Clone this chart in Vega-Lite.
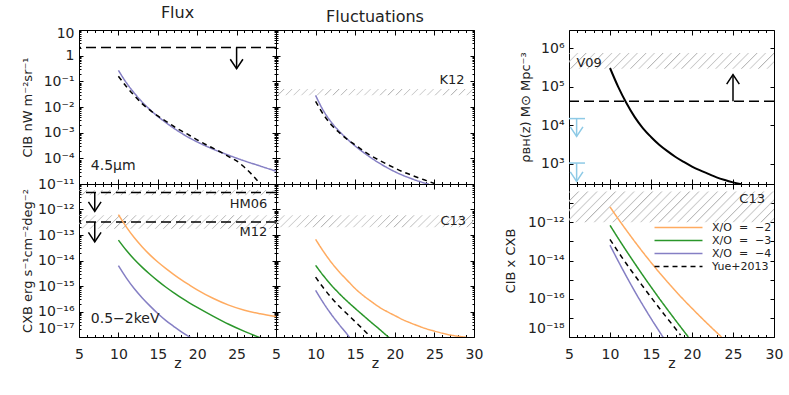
{
"$schema":"https://vega.github.io/schema/vega-lite/v6.json",
"background":"white",
"padding":{"left":20,"top":4,"right":6,"bottom":6},
"config":{
 "view":{"stroke":"#000","strokeWidth":1},
 "axis":{"grid":false,"domain":false,"tickColor":"#000","tickWidth":1,"labelFont":"DejaVu Sans","titleFont":"DejaVu Sans","labelColor":"#222","titleColor":"#222","labelFontSize":14,"titleFontSize":13,"titleFontWeight":"normal","zindex":1},
 "title":{"font":"DejaVu Sans","fontSize":16,"fontWeight":"normal","color":"#222","offset":5},
 "legend":{"labelFont":"DejaVu Sans"}
},
"datasets":{
 "curves":[
  {"p":"TL","s":"model","z":10,"v":0.269},{"p":"TL","s":"model","z":11,"v":0.0891},{"p":"TL","s":"model","z":12,"v":0.0355},{"p":"TL","s":"model","z":13,"v":0.0158},{"p":"TL","s":"model","z":14,"v":0.00794},{"p":"TL","s":"model","z":15,"v":0.00427},{"p":"TL","s":"model","z":16,"v":0.00251},{"p":"TL","s":"model","z":17,"v":0.00151},{"p":"TL","s":"model","z":18,"v":0.000955},{"p":"TL","s":"model","z":19,"v":0.000631},{"p":"TL","s":"model","z":20,"v":0.000437},{"p":"TL","s":"model","z":22,"v":0.000229},{"p":"TL","s":"model","z":24,"v":0.000132},{"p":"TL","s":"model","z":26,"v":7.94e-5},{"p":"TL","s":"model","z":28,"v":5.01e-5},{"p":"TL","s":"model","z":30,"v":3.16e-5},
  {"p":"TL","s":"Yue+2013","z":10,"v":0.158},{"p":"TL","s":"Yue+2013","z":11,"v":0.0631},{"p":"TL","s":"Yue+2013","z":12,"v":0.0282},{"p":"TL","s":"Yue+2013","z":13,"v":0.0135},{"p":"TL","s":"Yue+2013","z":14,"v":0.00759},{"p":"TL","s":"Yue+2013","z":15,"v":0.00447},{"p":"TL","s":"Yue+2013","z":16,"v":0.00282},{"p":"TL","s":"Yue+2013","z":17,"v":0.00178},{"p":"TL","s":"Yue+2013","z":18,"v":0.00117},{"p":"TL","s":"Yue+2013","z":19,"v":0.000794},{"p":"TL","s":"Yue+2013","z":20,"v":0.000525},{"p":"TL","s":"Yue+2013","z":21,"v":0.000355},{"p":"TL","s":"Yue+2013","z":22,"v":0.000251},{"p":"TL","s":"Yue+2013","z":23,"v":0.000174},{"p":"TL","s":"Yue+2013","z":24,"v":0.000117},{"p":"TL","s":"Yue+2013","z":25,"v":7.94e-5},{"p":"TL","s":"Yue+2013","z":26,"v":4.47e-5},{"p":"TL","s":"Yue+2013","z":27,"v":2.24e-5},{"p":"TL","s":"Yue+2013","z":28,"v":1e-5},
  {"p":"TM","s":"model","z":10,"v":0.0282},{"p":"TM","s":"model","z":11,"v":0.00708},{"p":"TM","s":"model","z":12,"v":0.00251},{"p":"TM","s":"model","z":13,"v":0.00112},{"p":"TM","s":"model","z":14,"v":0.000562},{"p":"TM","s":"model","z":15,"v":0.000302},{"p":"TM","s":"model","z":16,"v":0.000174},{"p":"TM","s":"model","z":17,"v":0.000105},{"p":"TM","s":"model","z":18,"v":6.61e-5},{"p":"TM","s":"model","z":19,"v":4.37e-5},{"p":"TM","s":"model","z":20,"v":3.02e-5},{"p":"TM","s":"model","z":21,"v":2.19e-5},{"p":"TM","s":"model","z":22,"v":1.66e-5},{"p":"TM","s":"model","z":23,"v":1.29e-5},{"p":"TM","s":"model","z":24,"v":1.05e-5},{"p":"TM","s":"model","z":24.3,"v":1e-5},
  {"p":"TM","s":"Yue+2013","z":10,"v":0.0166},{"p":"TM","s":"Yue+2013","z":11,"v":0.00501},{"p":"TM","s":"Yue+2013","z":12,"v":0.002},{"p":"TM","s":"Yue+2013","z":13,"v":0.001},{"p":"TM","s":"Yue+2013","z":14,"v":0.00055},{"p":"TM","s":"Yue+2013","z":15,"v":0.000331},{"p":"TM","s":"Yue+2013","z":16,"v":0.0002},{"p":"TM","s":"Yue+2013","z":17,"v":0.000126},{"p":"TM","s":"Yue+2013","z":18,"v":8.51e-5},{"p":"TM","s":"Yue+2013","z":19,"v":5.89e-5},{"p":"TM","s":"Yue+2013","z":20,"v":4.17e-5},{"p":"TM","s":"Yue+2013","z":21,"v":3.02e-5},{"p":"TM","s":"Yue+2013","z":22,"v":2.29e-5},{"p":"TM","s":"Yue+2013","z":23,"v":1.74e-5},{"p":"TM","s":"Yue+2013","z":24,"v":1.35e-5},{"p":"TM","s":"Yue+2013","z":25,"v":1.05e-5},
  {"p":"BL","s":"X/O = −2","z":10,"v":6.31e-13},{"p":"BL","s":"X/O = −2","z":11,"v":2.09e-13},{"p":"BL","s":"X/O = −2","z":12,"v":7.94e-14},{"p":"BL","s":"X/O = −2","z":13,"v":3.47e-14},{"p":"BL","s":"X/O = −2","z":14,"v":1.66e-14},{"p":"BL","s":"X/O = −2","z":15,"v":8.71e-15},{"p":"BL","s":"X/O = −2","z":16,"v":4.9e-15},{"p":"BL","s":"X/O = −2","z":17,"v":2.88e-15},{"p":"BL","s":"X/O = −2","z":18,"v":1.74e-15},{"p":"BL","s":"X/O = −2","z":19,"v":1.1e-15},{"p":"BL","s":"X/O = −2","z":20,"v":7.08e-16},{"p":"BL","s":"X/O = −2","z":22,"v":3.31e-16},{"p":"BL","s":"X/O = −2","z":24,"v":1.78e-16},{"p":"BL","s":"X/O = −2","z":26,"v":1.12e-16},{"p":"BL","s":"X/O = −2","z":28,"v":8.13e-17},{"p":"BL","s":"X/O = −2","z":30,"v":6.31e-17},
  {"p":"BL","s":"X/O = −3","z":10,"v":6.31e-14},{"p":"BL","s":"X/O = −3","z":11,"v":2.51e-14},{"p":"BL","s":"X/O = −3","z":12,"v":1.12e-14},{"p":"BL","s":"X/O = −3","z":13,"v":5.5e-15},{"p":"BL","s":"X/O = −3","z":14,"v":2.88e-15},{"p":"BL","s":"X/O = −3","z":15,"v":1.58e-15},{"p":"BL","s":"X/O = −3","z":16,"v":9.12e-16},{"p":"BL","s":"X/O = −3","z":17,"v":5.5e-16},{"p":"BL","s":"X/O = −3","z":18,"v":3.39e-16},{"p":"BL","s":"X/O = −3","z":19,"v":2.19e-16},{"p":"BL","s":"X/O = −3","z":20,"v":1.45e-16},{"p":"BL","s":"X/O = −3","z":22,"v":6.61e-17},{"p":"BL","s":"X/O = −3","z":24,"v":3.16e-17},{"p":"BL","s":"X/O = −3","z":26,"v":1.66e-17},{"p":"BL","s":"X/O = −3","z":28,"v":9.33e-18},
  {"p":"BL","s":"X/O = −4","z":10,"v":6.31e-15},{"p":"BL","s":"X/O = −4","z":11,"v":2.09e-15},{"p":"BL","s":"X/O = −4","z":12,"v":7.94e-16},{"p":"BL","s":"X/O = −4","z":13,"v":3.47e-16},{"p":"BL","s":"X/O = −4","z":14,"v":1.66e-16},{"p":"BL","s":"X/O = −4","z":15,"v":8.32e-17},{"p":"BL","s":"X/O = −4","z":16,"v":4.47e-17},{"p":"BL","s":"X/O = −4","z":17,"v":2.63e-17},{"p":"BL","s":"X/O = −4","z":18,"v":1.58e-17},{"p":"BL","s":"X/O = −4","z":19,"v":1.02e-17},{"p":"BL","s":"X/O = −4","z":19.4,"v":8.7e-18},
  {"p":"BM","s":"X/O = −2","z":10,"v":6.76e-14},{"p":"BM","s":"X/O = −2","z":11,"v":2.24e-14},{"p":"BM","s":"X/O = −2","z":12,"v":8.32e-15},{"p":"BM","s":"X/O = −2","z":13,"v":3.55e-15},{"p":"BM","s":"X/O = −2","z":14,"v":1.66e-15},{"p":"BM","s":"X/O = −2","z":15,"v":7.94e-16},{"p":"BM","s":"X/O = −2","z":16,"v":4.27e-16},{"p":"BM","s":"X/O = −2","z":17,"v":2.51e-16},{"p":"BM","s":"X/O = −2","z":18,"v":1.51e-16},{"p":"BM","s":"X/O = −2","z":19,"v":1e-16},{"p":"BM","s":"X/O = −2","z":20,"v":6.92e-17},{"p":"BM","s":"X/O = −2","z":21,"v":4.79e-17},{"p":"BM","s":"X/O = −2","z":22,"v":3.55e-17},{"p":"BM","s":"X/O = −2","z":23,"v":2.69e-17},{"p":"BM","s":"X/O = −2","z":24,"v":2.09e-17},{"p":"BM","s":"X/O = −2","z":25,"v":1.7e-17},{"p":"BM","s":"X/O = −2","z":26,"v":1.41e-17},{"p":"BM","s":"X/O = −2","z":27,"v":1.2e-17},{"p":"BM","s":"X/O = −2","z":28,"v":1.07e-17},{"p":"BM","s":"X/O = −2","z":29,"v":9.8e-18},
  {"p":"BM","s":"X/O = −3","z":10,"v":6.46e-15},{"p":"BM","s":"X/O = −3","z":11,"v":2.51e-15},{"p":"BM","s":"X/O = −3","z":12,"v":1.07e-15},{"p":"BM","s":"X/O = −3","z":13,"v":5.01e-16},{"p":"BM","s":"X/O = −3","z":14,"v":2.51e-16},{"p":"BM","s":"X/O = −3","z":15,"v":1.32e-16},{"p":"BM","s":"X/O = −3","z":16,"v":7.08e-17},{"p":"BM","s":"X/O = −3","z":17,"v":3.8e-17},{"p":"BM","s":"X/O = −3","z":18,"v":2.09e-17},{"p":"BM","s":"X/O = −3","z":19,"v":1.12e-17},{"p":"BM","s":"X/O = −3","z":19.3,"v":9.3e-18},
  {"p":"BM","s":"Yue+2013","z":10,"v":2.24e-15},{"p":"BM","s":"Yue+2013","z":11,"v":8.32e-16},{"p":"BM","s":"Yue+2013","z":12,"v":3.47e-16},{"p":"BM","s":"Yue+2013","z":13,"v":1.58e-16},{"p":"BM","s":"Yue+2013","z":14,"v":7.94e-17},{"p":"BM","s":"Yue+2013","z":15,"v":3.98e-17},{"p":"BM","s":"Yue+2013","z":16,"v":2.0e-17},{"p":"BM","s":"Yue+2013","z":16.9,"v":1.05e-17},
  {"p":"BM","s":"X/O = −4","z":10,"v":6.76e-16},{"p":"BM","s":"X/O = −4","z":11,"v":2.14e-16},{"p":"BM","s":"X/O = −4","z":12,"v":7.59e-17},{"p":"BM","s":"X/O = −4","z":13,"v":3.02e-17},{"p":"BM","s":"X/O = −4","z":14,"v":1.26e-17},{"p":"BM","s":"X/O = −4","z":14.3,"v":9.5e-18},
  {"p":"RT","s":"model","z":10,"v":309000},{"p":"RT","s":"model","z":11,"v":100000},{"p":"RT","s":"model","z":12,"v":38000},{"p":"RT","s":"model","z":13,"v":16600},{"p":"RT","s":"model","z":14,"v":8510},{"p":"RT","s":"model","z":15,"v":5010},{"p":"RT","s":"model","z":16,"v":3160},{"p":"RT","s":"model","z":17,"v":2140},{"p":"RT","s":"model","z":18,"v":1510},{"p":"RT","s":"model","z":19,"v":1120},{"p":"RT","s":"model","z":20,"v":851},{"p":"RT","s":"model","z":21,"v":676},{"p":"RT","s":"model","z":22,"v":550},{"p":"RT","s":"model","z":23,"v":447},{"p":"RT","s":"model","z":24,"v":380},{"p":"RT","s":"model","z":25,"v":331},{"p":"RT","s":"model","z":26,"v":295},
  {"p":"RB","s":"X/O = −2","z":10,"v":6.31e-12},{"p":"RB","s":"X/O = −2","z":11,"v":1.51e-12},{"p":"RB","s":"X/O = −2","z":12,"v":3.8e-13},{"p":"RB","s":"X/O = −2","z":13,"v":1e-13},{"p":"RB","s":"X/O = −2","z":14,"v":2.75e-14},{"p":"RB","s":"X/O = −2","z":15,"v":7.94e-15},{"p":"RB","s":"X/O = −2","z":16,"v":2.4e-15},{"p":"RB","s":"X/O = −2","z":17,"v":7.59e-16},{"p":"RB","s":"X/O = −2","z":18,"v":2.51e-16},{"p":"RB","s":"X/O = −2","z":19,"v":8.71e-17},{"p":"RB","s":"X/O = −2","z":20,"v":3.16e-17},{"p":"RB","s":"X/O = −2","z":21,"v":1.17e-17},{"p":"RB","s":"X/O = −2","z":22,"v":4.47e-18},{"p":"RB","s":"X/O = −2","z":23,"v":1.74e-18},{"p":"RB","s":"X/O = −2","z":23.6,"v":1e-18},
  {"p":"RB","s":"X/O = −3","z":10,"v":6.92e-13},{"p":"RB","s":"X/O = −3","z":11,"v":1.45e-13},{"p":"RB","s":"X/O = −3","z":12,"v":3.16e-14},{"p":"RB","s":"X/O = −3","z":13,"v":7.24e-15},{"p":"RB","s":"X/O = −3","z":14,"v":1.7e-15},{"p":"RB","s":"X/O = −3","z":15,"v":4.17e-16},{"p":"RB","s":"X/O = −3","z":16,"v":1.05e-16},{"p":"RB","s":"X/O = −3","z":17,"v":2.75e-17},{"p":"RB","s":"X/O = −3","z":18,"v":7.41e-18},{"p":"RB","s":"X/O = −3","z":19,"v":2.04e-18},{"p":"RB","s":"X/O = −3","z":19.55,"v":1e-18},
  {"p":"RB","s":"Yue+2013","z":10,"v":1.26e-13},{"p":"RB","s":"Yue+2013","z":11,"v":2.82e-14},{"p":"RB","s":"Yue+2013","z":12,"v":6.76e-15},{"p":"RB","s":"Yue+2013","z":13,"v":1.7e-15},{"p":"RB","s":"Yue+2013","z":14,"v":4.47e-16},{"p":"RB","s":"Yue+2013","z":15,"v":1.2e-16},{"p":"RB","s":"Yue+2013","z":16,"v":3.31e-17},{"p":"RB","s":"Yue+2013","z":17,"v":9.33e-18},{"p":"RB","s":"Yue+2013","z":18,"v":2.69e-18},{"p":"RB","s":"Yue+2013","z":18.6,"v":1.26e-18},
  {"p":"RB","s":"X/O = −4","z":10,"v":6.31e-14},{"p":"RB","s":"X/O = −4","z":11,"v":9.33e-15},{"p":"RB","s":"X/O = −4","z":12,"v":1.48e-15},{"p":"RB","s":"X/O = −4","z":13,"v":2.51e-16},{"p":"RB","s":"X/O = −4","z":14,"v":4.68e-17},{"p":"RB","s":"X/O = −4","z":15,"v":9.33e-18},{"p":"RB","s":"X/O = −4","z":16,"v":2.0e-18},{"p":"RB","s":"X/O = −4","z":16.5,"v":9.3e-19}
 ],
 "hlines":[{"p":"TL","v":2.1},{"p":"BL","v":4.6e-12},{"p":"BL","v":3.2e-13},{"p":"RT","v":42000}],
 "limits":[{"p":"TL","z":25,"v":2.1,"tip":0.31},{"p":"BL","z":7,"v":4.6e-12,"tip":8.5e-13},{"p":"BL","z":7,"v":3.2e-13,"tip":5.4e-14},{"p":"RT","z":25,"v":42000,"tip":207000}],
 "bhlimits":[{"z":5.93,"z0":5,"z1":6.95,"v":15000,"tip":5200},{"z":5.93,"z0":5,"z1":6.95,"v":1050,"tip":350}],
 "bands":[{"p":"TM","name":"K12","lo":0.0285,"hi":0.05},{"p":"BL","name":"HM06","lo":3.6e-12,"hi":5.8e-12},{"p":"BL","name":"M12","lo":1.74e-13,"hi":6.0e-13},{"p":"BM","name":"C13","lo":2.0e-13,"hi":5.9e-13},{"p":"RT","name":"V09","lo":295000,"hi":760000},{"p":"RB","name":"C13","lo":1e-12,"hi":4e-11}],
 "notes":[{"p":"TL","z":6.5,"v":5.2e-5,"t":"4.5μm"},{"p":"BL","z":6.5,"v":4.9e-17,"t":"0.5−2keV"},{"p":"RT","z":5.9,"v":417000,"t":"V09"}],
 "tags":[{"p":"TM","z":28.8,"v":0.11,"t":"K12"},{"p":"BL","z":28.9,"v":1.7e-12,"t":"HM06"},{"p":"BL","z":28.9,"v":1.32e-13,"t":"M12"},{"p":"BM","z":29,"v":3.47e-13,"t":"C13"},{"p":"RB","z":28.9,"v":1.7e-11,"t":"C13"}]
},
"columns":4,"spacing":0,"bounds":"flush","align":"each",
"resolve":{"scale":{"color":"independent","strokeDash":"independent"}},
"concat":[
{"width":197,"height":154,"title":{"text":"Flux"},
 "resolve":{"axis":{"x":"independent","y":"independent"}},
 "layer":[
  {"data":{"name":"curves"},"transform":[{"filter":"datum.p == 'TL'"}],"mark":{"type":"point","opacity":0},"encoding":{
   "x":{"field":"z","type":"quantitative","scale":{"domain":[5,30],"nice":false},"axis":{"orient":"bottom","values":[5,10,15,20,25,30],"tickSize":-5,"labels":false,"title":null}},
   "y":{"field":"v","type":"quantitative","scale":{"type":"log","domain":[1e-5,10],"nice":false},"axis":{"orient":"left","values":[0.0001,0.001,0.01,0.1,1,10],"ticks":false,"tickSize":0,"labelPadding":5,"labelFlush":false,"labelOverlap":false,"labelOffset":{"condition":{"test":"datum.value > 5","value":3},"value":0},"labelExpr":"datum.value >= 1 && datum.value < 100 ? format(datum.value, 'd') : '10' + replace(replace(replace(replace(replace(replace(replace(replace(replace(replace(replace(toString(round(log(datum.value) / LN10)), regexp('-', 'g'), '⁻'), regexp('0', 'g'), '⁰'), regexp('1', 'g'), '¹'), regexp('2', 'g'), '²'), regexp('3', 'g'), '³'), regexp('4', 'g'), '⁴'), regexp('5', 'g'), '⁵'), regexp('6', 'g'), '⁶'), regexp('7', 'g'), '⁷'), regexp('8', 'g'), '⁸'), regexp('9', 'g'), '⁹')","title":"CIB nW m⁻²sr⁻¹","titleX":-45}}}},
  {"data":{"name":"curves"},"transform":[{"filter":"datum.p == 'TL'"}],"mark":{"type":"point","opacity":0},"encoding":{
   "x":{"field":"z","type":"quantitative","axis":{"orient":"bottom","values":[6,7,8,9,11,12,13,14,16,17,18,19,21,22,23,24,26,27,28,29],"tickSize":-2.5,"labels":false,"title":null}},
   "y":{"field":"v","type":"quantitative","axis":{"orient":"left","values":[1e-5,0.0001,0.001,0.01,0.1,1,10],"tickSize":-4,"labels":false,"title":null}}}},
  {"data":{"name":"curves"},"transform":[{"filter":"datum.p == 'TL'"}],"mark":{"type":"point","opacity":0},"encoding":{
   "x":{"field":"z","type":"quantitative","axis":{"orient":"top","values":[5,10,15,20,25,30],"tickSize":-5,"labels":false,"title":null}},
   "y":{"field":"v","type":"quantitative","axis":{"orient":"left","values":[2e-5,3e-5,4e-5,5e-5,6e-5,7e-5,8e-5,9e-5,2e-4,3e-4,4e-4,5e-4,6e-4,7e-4,8e-4,9e-4,0.002,0.003,0.004,0.005,0.006,0.007,0.008,0.009,0.02,0.03,0.04,0.05,0.06,0.07,0.08,0.09,0.2,0.3,0.4,0.5,0.6,0.7,0.8,0.9,2,3,4,5,6,7,8,9],"tickSize":-2,"labels":false,"title":null}}}},
  {"data":{"name":"curves"},"transform":[{"filter":"datum.p == 'TL'"}],"mark":{"type":"point","opacity":0},"encoding":{
   "x":{"field":"z","type":"quantitative","axis":{"orient":"top","values":[6,7,8,9,11,12,13,14,16,17,18,19,21,22,23,24,26,27,28,29],"tickSize":-2.5,"labels":false,"title":null}},
   "y":{"field":"v","type":"quantitative","axis":{"orient":"right","values":[1e-5,0.0001,0.001,0.01,0.1,1,10],"tickSize":-4,"labels":false,"title":null}}}},
  {"data":{"name":"curves"},"transform":[{"filter":"datum.p == 'TL'"}],"mark":{"type":"point","opacity":0},"encoding":{
   "x":{"field":"z","type":"quantitative","axis":null},
   "y":{"field":"v","type":"quantitative","axis":{"orient":"right","values":[2e-5,3e-5,4e-5,5e-5,6e-5,7e-5,8e-5,9e-5,2e-4,3e-4,4e-4,5e-4,6e-4,7e-4,8e-4,9e-4,0.002,0.003,0.004,0.005,0.006,0.007,0.008,0.009,0.02,0.03,0.04,0.05,0.06,0.07,0.08,0.09,0.2,0.3,0.4,0.5,0.6,0.7,0.8,0.9,2,3,4,5,6,7,8,9],"tickSize":-2,"labels":false,"title":null}}}},
  {"data":{"name":"hlines"},"transform":[{"filter":"datum.p == 'TL'"}],"mark":{"type":"rule","strokeDash":[10,5],"strokeWidth":1.5,"color":"#000"},"encoding":{"y":{"field":"v","type":"quantitative","axis":null}}},
  {"data":{"name":"limits"},"transform":[{"filter":"datum.p == 'TL'"}],"mark":{"type":"rule","strokeWidth":1.5,"color":"#000"},"encoding":{"x":{"field":"z","type":"quantitative","axis":null},"y":{"field":"v","type":"quantitative","axis":null},"y2":{"field":"tip"}}},
  {"data":{"name":"limits"},"transform":[{"filter":"datum.p == 'TL'"}],"mark":{"type":"point","shape":"M-1,-1.5L0,0L1,-1.5","filled":false,"size":160,"strokeWidth":1.5,"color":"#000","opacity":1},"encoding":{"x":{"field":"z","type":"quantitative","axis":null},"y":{"field":"tip","type":"quantitative","axis":null}}},
  {"data":{"name":"curves"},"transform":[{"filter":"datum.p == 'TL'"}],"mark":{"type":"line","strokeWidth":1.5,"clip":true,"interpolate":"monotone"},"encoding":{
   "x":{"field":"z","type":"quantitative","axis":null},"y":{"field":"v","type":"quantitative","axis":null},
   "color":{"field":"s","type":"nominal","scale":{"domain":["model","Yue+2013"],"range":["#857fc4","#000000"]},"legend":null},
   "strokeDash":{"field":"s","type":"nominal","scale":{"domain":["model","Yue+2013"],"range":[[1,0],[5,4]]},"legend":null}}},
  {"data":{"name":"notes"},"transform":[{"filter":"datum.p == 'TL'"}],"mark":{"type":"text","align":"left","baseline":"middle","fontSize":14,"font":"DejaVu Sans","color":"#222"},"encoding":{"x":{"field":"z","type":"quantitative","axis":null},"y":{"field":"v","type":"quantitative","axis":null},"text":{"field":"t"}}}
 ]},
{"width":198,"height":154,"title":{"text":"Fluctuations"},
 "resolve":{"axis":{"x":"independent","y":"independent"}},
 "layer":[
  {"data":{"name":"curves"},"transform":[{"filter":"datum.p == 'TM'"}],"mark":{"type":"point","opacity":0},"encoding":{
   "x":{"field":"z","type":"quantitative","scale":{"domain":[5,30],"nice":false},"axis":{"orient":"bottom","values":[5,10,15,20,25,30],"tickSize":-5,"labels":false,"title":null}},
   "y":{"field":"v","type":"quantitative","scale":{"type":"log","domain":[1e-5,10],"nice":false},"axis":{"orient":"left","values":[1e-5,0.0001,0.001,0.01,0.1,1,10],"tickSize":-4,"labels":false,"title":null}}}},
  {"data":{"name":"curves"},"transform":[{"filter":"datum.p == 'TM'"}],"mark":{"type":"point","opacity":0},"encoding":{
   "x":{"field":"z","type":"quantitative","axis":{"orient":"bottom","values":[6,7,8,9,11,12,13,14,16,17,18,19,21,22,23,24,26,27,28,29],"tickSize":-2.5,"labels":false,"title":null}},
   "y":{"field":"v","type":"quantitative","axis":{"orient":"left","values":[2e-5,3e-5,4e-5,5e-5,6e-5,7e-5,8e-5,9e-5,2e-4,3e-4,4e-4,5e-4,6e-4,7e-4,8e-4,9e-4,0.002,0.003,0.004,0.005,0.006,0.007,0.008,0.009,0.02,0.03,0.04,0.05,0.06,0.07,0.08,0.09,0.2,0.3,0.4,0.5,0.6,0.7,0.8,0.9,2,3,4,5,6,7,8,9],"tickSize":-2,"labels":false,"title":null}}}},
  {"data":{"name":"curves"},"transform":[{"filter":"datum.p == 'TM'"}],"mark":{"type":"point","opacity":0},"encoding":{
   "x":{"field":"z","type":"quantitative","axis":{"orient":"top","values":[5,10,15,20,25,30],"tickSize":-5,"labels":false,"title":null}},
   "y":{"field":"v","type":"quantitative","axis":{"orient":"right","values":[1e-5,0.0001,0.001,0.01,0.1,1,10],"tickSize":-4,"labels":false,"title":null}}}},
  {"data":{"name":"curves"},"transform":[{"filter":"datum.p == 'TM'"}],"mark":{"type":"point","opacity":0},"encoding":{
   "x":{"field":"z","type":"quantitative","axis":{"orient":"top","values":[6,7,8,9,11,12,13,14,16,17,18,19,21,22,23,24,26,27,28,29],"tickSize":-2.5,"labels":false,"title":null}},
   "y":{"field":"v","type":"quantitative","axis":{"orient":"right","values":[2e-5,3e-5,4e-5,5e-5,6e-5,7e-5,8e-5,9e-5,2e-4,3e-4,4e-4,5e-4,6e-4,7e-4,8e-4,9e-4,0.002,0.003,0.004,0.005,0.006,0.007,0.008,0.009,0.02,0.03,0.04,0.05,0.06,0.07,0.08,0.09,0.2,0.3,0.4,0.5,0.6,0.7,0.8,0.9,2,3,4,5,6,7,8,9],"tickSize":-2,"labels":false,"title":null}}}},
  {"data":{"name":"bands"},"transform":[{"filter":"datum.p == 'TM'"}],"mark":{"type":"rect","clip":true,"fill":{"gradient":"linear","x1":0,"y1":0,"x2":1.032,"y2":0.033,"stops":[{"offset":0,"color":"#b5b5b5"},{"offset":0.009,"color":"#fff0"},{"offset":0.034,"color":"#fff0"},{"offset":0.0385,"color":"#b5b5b5"},{"offset":0.0475,"color":"#fff0"},{"offset":0.0725,"color":"#fff0"},{"offset":0.0769,"color":"#b5b5b5"},{"offset":0.0859,"color":"#fff0"},{"offset":0.1109,"color":"#fff0"},{"offset":0.1154,"color":"#b5b5b5"},{"offset":0.1244,"color":"#fff0"},{"offset":0.1494,"color":"#fff0"},{"offset":0.1538,"color":"#b5b5b5"},{"offset":0.1628,"color":"#fff0"},{"offset":0.1878,"color":"#fff0"},{"offset":0.1923,"color":"#b5b5b5"},{"offset":0.2013,"color":"#fff0"},{"offset":0.2263,"color":"#fff0"},{"offset":0.2308,"color":"#b5b5b5"},{"offset":0.2398,"color":"#fff0"},{"offset":0.2648,"color":"#fff0"},{"offset":0.2692,"color":"#b5b5b5"},{"offset":0.2782,"color":"#fff0"},{"offset":0.3032,"color":"#fff0"},{"offset":0.3077,"color":"#b5b5b5"},{"offset":0.3167,"color":"#fff0"},{"offset":0.3417,"color":"#fff0"},{"offset":0.3462,"color":"#b5b5b5"},{"offset":0.3552,"color":"#fff0"},{"offset":0.3802,"color":"#fff0"},{"offset":0.3846,"color":"#b5b5b5"},{"offset":0.3936,"color":"#fff0"},{"offset":0.4186,"color":"#fff0"},{"offset":0.4231,"color":"#b5b5b5"},{"offset":0.4321,"color":"#fff0"},{"offset":0.4571,"color":"#fff0"},{"offset":0.4615,"color":"#b5b5b5"},{"offset":0.4705,"color":"#fff0"},{"offset":0.4955,"color":"#fff0"},{"offset":0.5,"color":"#b5b5b5"},{"offset":0.509,"color":"#fff0"},{"offset":0.534,"color":"#fff0"},{"offset":0.5385,"color":"#b5b5b5"},{"offset":0.5475,"color":"#fff0"},{"offset":0.5725,"color":"#fff0"},{"offset":0.5769,"color":"#b5b5b5"},{"offset":0.5859,"color":"#fff0"},{"offset":0.6109,"color":"#fff0"},{"offset":0.6154,"color":"#b5b5b5"},{"offset":0.6244,"color":"#fff0"},{"offset":0.6494,"color":"#fff0"},{"offset":0.6538,"color":"#b5b5b5"},{"offset":0.6628,"color":"#fff0"},{"offset":0.6878,"color":"#fff0"},{"offset":0.6923,"color":"#b5b5b5"},{"offset":0.7013,"color":"#fff0"},{"offset":0.7263,"color":"#fff0"},{"offset":0.7308,"color":"#b5b5b5"},{"offset":0.7398,"color":"#fff0"},{"offset":0.7648,"color":"#fff0"},{"offset":0.7692,"color":"#b5b5b5"},{"offset":0.7782,"color":"#fff0"},{"offset":0.8032,"color":"#fff0"},{"offset":0.8077,"color":"#b5b5b5"},{"offset":0.8167,"color":"#fff0"},{"offset":0.8417,"color":"#fff0"},{"offset":0.8462,"color":"#b5b5b5"},{"offset":0.8552,"color":"#fff0"},{"offset":0.8802,"color":"#fff0"},{"offset":0.8846,"color":"#b5b5b5"},{"offset":0.8936,"color":"#fff0"},{"offset":0.9186,"color":"#fff0"},{"offset":0.9231,"color":"#b5b5b5"},{"offset":0.9321,"color":"#fff0"},{"offset":0.9571,"color":"#fff0"},{"offset":0.9615,"color":"#b5b5b5"},{"offset":0.9705,"color":"#fff0"},{"offset":1,"color":"#fff0"}]}},"encoding":{"y":{"field":"lo","type":"quantitative","axis":null},"y2":{"field":"hi"}}},
  {"data":{"name":"curves"},"transform":[{"filter":"datum.p == 'TM'"}],"mark":{"type":"line","strokeWidth":1.5,"clip":true,"interpolate":"monotone"},"encoding":{
   "x":{"field":"z","type":"quantitative","axis":null},"y":{"field":"v","type":"quantitative","axis":null},
   "color":{"field":"s","type":"nominal","scale":{"domain":["model","Yue+2013"],"range":["#857fc4","#000000"]},"legend":null},
   "strokeDash":{"field":"s","type":"nominal","scale":{"domain":["model","Yue+2013"],"range":[[1,0],[5,4]]},"legend":null}}},
  {"data":{"name":"tags"},"transform":[{"filter":"datum.p == 'TM'"}],"mark":{"type":"text","align":"right","baseline":"middle","fontSize":13,"font":"DejaVu Sans","color":"#222"},"encoding":{"x":{"field":"z","type":"quantitative","axis":null},"y":{"field":"v","type":"quantitative","axis":null},"text":{"field":"t"}}}
 ]},
{"width":95,"height":154,"view":{"stroke":null},"data":{"name":"hlines"},"transform":[{"filter":"false"}],"mark":{"type":"point","opacity":0},"encoding":{}},
{"width":205,"height":154,
 "resolve":{"axis":{"x":"independent","y":"independent"}},
 "layer":[
  {"data":{"name":"curves"},"transform":[{"filter":"datum.p == 'RT'"}],"mark":{"type":"point","opacity":0},"encoding":{
   "x":{"field":"z","type":"quantitative","scale":{"domain":[5,30],"nice":false},"axis":{"orient":"bottom","values":[5,10,15,20,25,30],"tickSize":-5,"labels":false,"title":null}},
   "y":{"field":"v","type":"quantitative","scale":{"type":"log","domain":[300,3000000],"nice":false},"axis":{"orient":"left","values":[1000,10000,100000,1000000],"ticks":false,"tickSize":0,"labelPadding":5,"labelFlush":false,"labelOverlap":false,"labelExpr":"datum.value >= 1 && datum.value < 100 ? format(datum.value, 'd') : '10' + replace(replace(replace(replace(replace(replace(replace(replace(replace(replace(replace(toString(round(log(datum.value) / LN10)), regexp('-', 'g'), '⁻'), regexp('0', 'g'), '⁰'), regexp('1', 'g'), '¹'), regexp('2', 'g'), '²'), regexp('3', 'g'), '³'), regexp('4', 'g'), '⁴'), regexp('5', 'g'), '⁵'), regexp('6', 'g'), '⁶'), regexp('7', 'g'), '⁷'), regexp('8', 'g'), '⁸'), regexp('9', 'g'), '⁹')","title":"ρʙʜ(z) M⊙ Mpc⁻³","titleX":-37}}}},
  {"data":{"name":"curves"},"transform":[{"filter":"datum.p == 'RT'"}],"mark":{"type":"point","opacity":0},"encoding":{
   "x":{"field":"z","type":"quantitative","axis":{"orient":"bottom","values":[6,7,8,9,11,12,13,14,16,17,18,19,21,22,23,24,26,27,28,29],"tickSize":-2.5,"labels":false,"title":null}},
   "y":{"field":"v","type":"quantitative","axis":{"orient":"left","values":[1000,10000,100000,1000000],"tickSize":-4,"labels":false,"title":null}}}},
  {"data":{"name":"curves"},"transform":[{"filter":"datum.p == 'RT'"}],"mark":{"type":"point","opacity":0},"encoding":{
   "x":{"field":"z","type":"quantitative","axis":{"orient":"top","values":[5,10,15,20,25,30],"tickSize":-5,"labels":false,"title":null}},
   "y":{"field":"v","type":"quantitative","axis":{"orient":"right","values":[1000,10000,100000,1000000],"tickSize":-4,"labels":false,"title":null}}}},
  {"data":{"name":"curves"},"transform":[{"filter":"datum.p == 'RT'"}],"mark":{"type":"point","opacity":0},"encoding":{
   "x":{"field":"z","type":"quantitative","axis":{"orient":"top","values":[6,7,8,9,11,12,13,14,16,17,18,19,21,22,23,24,26,27,28,29],"tickSize":-2.5,"labels":false,"title":null}},
   "y":{"field":"v","type":"quantitative","axis":null}}},
  {"data":{"name":"bands"},"transform":[{"filter":"datum.p == 'RT'"}],"mark":{"type":"rect","clip":true,"fill":{"gradient":"linear","x1":0,"y1":0,"x2":1.077,"y2":0.083,"stops":[{"offset":0,"color":"#b5b5b5"},{"offset":0.009,"color":"#fff0"},{"offset":0.034,"color":"#fff0"},{"offset":0.0385,"color":"#b5b5b5"},{"offset":0.0475,"color":"#fff0"},{"offset":0.0725,"color":"#fff0"},{"offset":0.0769,"color":"#b5b5b5"},{"offset":0.0859,"color":"#fff0"},{"offset":0.1109,"color":"#fff0"},{"offset":0.1154,"color":"#b5b5b5"},{"offset":0.1244,"color":"#fff0"},{"offset":0.1494,"color":"#fff0"},{"offset":0.1538,"color":"#b5b5b5"},{"offset":0.1628,"color":"#fff0"},{"offset":0.1878,"color":"#fff0"},{"offset":0.1923,"color":"#b5b5b5"},{"offset":0.2013,"color":"#fff0"},{"offset":0.2263,"color":"#fff0"},{"offset":0.2308,"color":"#b5b5b5"},{"offset":0.2398,"color":"#fff0"},{"offset":0.2648,"color":"#fff0"},{"offset":0.2692,"color":"#b5b5b5"},{"offset":0.2782,"color":"#fff0"},{"offset":0.3032,"color":"#fff0"},{"offset":0.3077,"color":"#b5b5b5"},{"offset":0.3167,"color":"#fff0"},{"offset":0.3417,"color":"#fff0"},{"offset":0.3462,"color":"#b5b5b5"},{"offset":0.3552,"color":"#fff0"},{"offset":0.3802,"color":"#fff0"},{"offset":0.3846,"color":"#b5b5b5"},{"offset":0.3936,"color":"#fff0"},{"offset":0.4186,"color":"#fff0"},{"offset":0.4231,"color":"#b5b5b5"},{"offset":0.4321,"color":"#fff0"},{"offset":0.4571,"color":"#fff0"},{"offset":0.4615,"color":"#b5b5b5"},{"offset":0.4705,"color":"#fff0"},{"offset":0.4955,"color":"#fff0"},{"offset":0.5,"color":"#b5b5b5"},{"offset":0.509,"color":"#fff0"},{"offset":0.534,"color":"#fff0"},{"offset":0.5385,"color":"#b5b5b5"},{"offset":0.5475,"color":"#fff0"},{"offset":0.5725,"color":"#fff0"},{"offset":0.5769,"color":"#b5b5b5"},{"offset":0.5859,"color":"#fff0"},{"offset":0.6109,"color":"#fff0"},{"offset":0.6154,"color":"#b5b5b5"},{"offset":0.6244,"color":"#fff0"},{"offset":0.6494,"color":"#fff0"},{"offset":0.6538,"color":"#b5b5b5"},{"offset":0.6628,"color":"#fff0"},{"offset":0.6878,"color":"#fff0"},{"offset":0.6923,"color":"#b5b5b5"},{"offset":0.7013,"color":"#fff0"},{"offset":0.7263,"color":"#fff0"},{"offset":0.7308,"color":"#b5b5b5"},{"offset":0.7398,"color":"#fff0"},{"offset":0.7648,"color":"#fff0"},{"offset":0.7692,"color":"#b5b5b5"},{"offset":0.7782,"color":"#fff0"},{"offset":0.8032,"color":"#fff0"},{"offset":0.8077,"color":"#b5b5b5"},{"offset":0.8167,"color":"#fff0"},{"offset":0.8417,"color":"#fff0"},{"offset":0.8462,"color":"#b5b5b5"},{"offset":0.8552,"color":"#fff0"},{"offset":0.8802,"color":"#fff0"},{"offset":0.8846,"color":"#b5b5b5"},{"offset":0.8936,"color":"#fff0"},{"offset":0.9186,"color":"#fff0"},{"offset":0.9231,"color":"#b5b5b5"},{"offset":0.9321,"color":"#fff0"},{"offset":0.9571,"color":"#fff0"},{"offset":0.9615,"color":"#b5b5b5"},{"offset":0.9705,"color":"#fff0"},{"offset":1,"color":"#fff0"}]}},"encoding":{"y":{"field":"lo","type":"quantitative","axis":null},"y2":{"field":"hi"}}},
  {"data":{"name":"hlines"},"transform":[{"filter":"datum.p == 'RT'"}],"mark":{"type":"rule","strokeDash":[10,5],"strokeWidth":1.5,"color":"#000"},"encoding":{"y":{"field":"v","type":"quantitative","axis":null}}},
  {"data":{"name":"limits"},"transform":[{"filter":"datum.p == 'RT'"}],"mark":{"type":"rule","strokeWidth":1.5,"color":"#000"},"encoding":{"x":{"field":"z","type":"quantitative","axis":null},"y":{"field":"v","type":"quantitative","axis":null},"y2":{"field":"tip"}}},
  {"data":{"name":"limits"},"transform":[{"filter":"datum.p == 'RT'"}],"mark":{"type":"point","shape":"M-1,1.5L0,0L1,1.5","filled":false,"size":160,"strokeWidth":1.5,"color":"#000","opacity":1},"encoding":{"x":{"field":"z","type":"quantitative","axis":null},"y":{"field":"tip","type":"quantitative","axis":null}}},
  {"data":{"name":"bhlimits"},"mark":{"type":"rule","strokeWidth":1.5,"color":"#8ecae6"},"encoding":{"x":{"field":"z0","type":"quantitative","axis":null},"x2":{"field":"z1"},"y":{"field":"v","type":"quantitative","axis":null}}},
  {"data":{"name":"bhlimits"},"mark":{"type":"rule","strokeWidth":1.5,"color":"#8ecae6"},"encoding":{"x":{"field":"z","type":"quantitative","axis":null},"y":{"field":"v","type":"quantitative","axis":null},"y2":{"field":"tip"}}},
  {"data":{"name":"bhlimits"},"mark":{"type":"point","shape":"M-1,-1.5L0,0L1,-1.5","filled":false,"size":160,"strokeWidth":1.5,"color":"#8ecae6","opacity":1},"encoding":{"x":{"field":"z","type":"quantitative","axis":null},"y":{"field":"tip","type":"quantitative","axis":null}}},
  {"data":{"name":"curves"},"transform":[{"filter":"datum.p == 'RT'"}],"mark":{"type":"line","strokeWidth":2,"clip":true,"interpolate":"monotone","color":"#000"},"encoding":{"x":{"field":"z","type":"quantitative","axis":null},"y":{"field":"v","type":"quantitative","axis":null}}},
  {"data":{"name":"notes"},"transform":[{"filter":"datum.p == 'RT'"}],"mark":{"type":"text","align":"left","baseline":"middle","fontSize":13,"font":"DejaVu Sans","color":"#222"},"encoding":{"x":{"field":"z","type":"quantitative","axis":null},"y":{"field":"v","type":"quantitative","axis":null},"text":{"field":"t"}}}
 ]},
{"width":197,"height":153,
 "resolve":{"axis":{"x":"independent","y":"independent"}},
 "layer":[
  {"data":{"name":"curves"},"transform":[{"filter":"datum.p == 'BL'"}],"mark":{"type":"point","opacity":0},"encoding":{
   "x":{"field":"z","type":"quantitative","scale":{"domain":[5,30],"nice":false},"axis":{"orient":"bottom","values":[5,10,15,20,25],"ticks":false,"tickSize":0,"labelPadding":10,"labelFlush":false,"labelOverlap":false,"title":"z","titleFontSize":14,"titlePadding":-5}},
   "y":{"field":"v","type":"quantitative","scale":{"type":"log","domain":[1e-17,1e-11],"nice":false},"axis":{"orient":"left","values":[1e-17,1e-16,1e-15,1e-14,1e-13,1e-12,1e-11],"ticks":false,"tickSize":0,"labelPadding":5,"labelFlush":false,"labelOverlap":false,"labelOffset":{"condition":{"test":"datum.value < 2e-17","value":-9},"value":0},"labelExpr":"datum.value >= 1 && datum.value < 100 ? format(datum.value, 'd') : '10' + replace(replace(replace(replace(replace(replace(replace(replace(replace(replace(replace(toString(round(log(datum.value) / LN10)), regexp('-', 'g'), '⁻'), regexp('0', 'g'), '⁰'), regexp('1', 'g'), '¹'), regexp('2', 'g'), '²'), regexp('3', 'g'), '³'), regexp('4', 'g'), '⁴'), regexp('5', 'g'), '⁵'), regexp('6', 'g'), '⁶'), regexp('7', 'g'), '⁷'), regexp('8', 'g'), '⁸'), regexp('9', 'g'), '⁹')","title":"CXB erg s⁻¹cm⁻²deg⁻²","titleX":-45}}}},
  {"data":{"name":"curves"},"transform":[{"filter":"datum.p == 'BL'"}],"mark":{"type":"point","opacity":0},"encoding":{
   "x":{"field":"z","type":"quantitative","axis":{"orient":"bottom","values":[5,10,15,20,25,30],"tickSize":-5,"labels":false,"title":null}},
   "y":{"field":"v","type":"quantitative","axis":{"orient":"left","values":[1e-17,1e-16,1e-15,1e-14,1e-13,1e-12,1e-11],"tickSize":-4,"labels":false,"title":null}}}},
  {"data":{"name":"curves"},"transform":[{"filter":"datum.p == 'BL'"}],"mark":{"type":"point","opacity":0},"encoding":{
   "x":{"field":"z","type":"quantitative","axis":{"orient":"bottom","values":[6,7,8,9,11,12,13,14,16,17,18,19,21,22,23,24,26,27,28,29],"tickSize":-2.5,"labels":false,"title":null}},
   "y":{"field":"v","type":"quantitative","axis":{"orient":"left","values":[2e-17,3e-17,4e-17,5e-17,6e-17,7e-17,8e-17,9e-17,2e-16,3e-16,4e-16,5e-16,6e-16,7e-16,8e-16,9e-16,2e-15,3e-15,4e-15,5e-15,6e-15,7e-15,8e-15,9e-15,2e-14,3e-14,4e-14,5e-14,6e-14,7e-14,8e-14,9e-14,2e-13,3e-13,4e-13,5e-13,6e-13,7e-13,8e-13,9e-13,2e-12,3e-12,4e-12,5e-12,6e-12,7e-12,8e-12,9e-12],"tickSize":-2,"labels":false,"title":null}}}},
  {"data":{"name":"curves"},"transform":[{"filter":"datum.p == 'BL'"}],"mark":{"type":"point","opacity":0},"encoding":{
   "x":{"field":"z","type":"quantitative","axis":{"orient":"top","values":[5,10,15,20,25,30],"tickSize":-5,"labels":false,"title":null}},
   "y":{"field":"v","type":"quantitative","axis":{"orient":"right","values":[1e-17,1e-16,1e-15,1e-14,1e-13,1e-12,1e-11],"tickSize":-4,"labels":false,"title":null}}}},
  {"data":{"name":"curves"},"transform":[{"filter":"datum.p == 'BL'"}],"mark":{"type":"point","opacity":0},"encoding":{
   "x":{"field":"z","type":"quantitative","axis":{"orient":"top","values":[6,7,8,9,11,12,13,14,16,17,18,19,21,22,23,24,26,27,28,29],"tickSize":-2.5,"labels":false,"title":null}},
   "y":{"field":"v","type":"quantitative","axis":{"orient":"right","values":[2e-17,3e-17,4e-17,5e-17,6e-17,7e-17,8e-17,9e-17,2e-16,3e-16,4e-16,5e-16,6e-16,7e-16,8e-16,9e-16,2e-15,3e-15,4e-15,5e-15,6e-15,7e-15,8e-15,9e-15,2e-14,3e-14,4e-14,5e-14,6e-14,7e-14,8e-14,9e-14,2e-13,3e-13,4e-13,5e-13,6e-13,7e-13,8e-13,9e-13,2e-12,3e-12,4e-12,5e-12,6e-12,7e-12,8e-12,9e-12],"tickSize":-2,"labels":false,"title":null}}}},
  {"data":{"name":"bands"},"transform":[{"filter":"datum.p == 'BL' && datum.name == 'HM06'"}],"mark":{"type":"rect","clip":true,"fill":{"gradient":"linear","x1":0,"y1":0,"x2":1.026,"y2":0.0267,"stops":[{"offset":0,"color":"#b5b5b5"},{"offset":0.009,"color":"#fff0"},{"offset":0.034,"color":"#fff0"},{"offset":0.0385,"color":"#b5b5b5"},{"offset":0.0475,"color":"#fff0"},{"offset":0.0725,"color":"#fff0"},{"offset":0.0769,"color":"#b5b5b5"},{"offset":0.0859,"color":"#fff0"},{"offset":0.1109,"color":"#fff0"},{"offset":0.1154,"color":"#b5b5b5"},{"offset":0.1244,"color":"#fff0"},{"offset":0.1494,"color":"#fff0"},{"offset":0.1538,"color":"#b5b5b5"},{"offset":0.1628,"color":"#fff0"},{"offset":0.1878,"color":"#fff0"},{"offset":0.1923,"color":"#b5b5b5"},{"offset":0.2013,"color":"#fff0"},{"offset":0.2263,"color":"#fff0"},{"offset":0.2308,"color":"#b5b5b5"},{"offset":0.2398,"color":"#fff0"},{"offset":0.2648,"color":"#fff0"},{"offset":0.2692,"color":"#b5b5b5"},{"offset":0.2782,"color":"#fff0"},{"offset":0.3032,"color":"#fff0"},{"offset":0.3077,"color":"#b5b5b5"},{"offset":0.3167,"color":"#fff0"},{"offset":0.3417,"color":"#fff0"},{"offset":0.3462,"color":"#b5b5b5"},{"offset":0.3552,"color":"#fff0"},{"offset":0.3802,"color":"#fff0"},{"offset":0.3846,"color":"#b5b5b5"},{"offset":0.3936,"color":"#fff0"},{"offset":0.4186,"color":"#fff0"},{"offset":0.4231,"color":"#b5b5b5"},{"offset":0.4321,"color":"#fff0"},{"offset":0.4571,"color":"#fff0"},{"offset":0.4615,"color":"#b5b5b5"},{"offset":0.4705,"color":"#fff0"},{"offset":0.4955,"color":"#fff0"},{"offset":0.5,"color":"#b5b5b5"},{"offset":0.509,"color":"#fff0"},{"offset":0.534,"color":"#fff0"},{"offset":0.5385,"color":"#b5b5b5"},{"offset":0.5475,"color":"#fff0"},{"offset":0.5725,"color":"#fff0"},{"offset":0.5769,"color":"#b5b5b5"},{"offset":0.5859,"color":"#fff0"},{"offset":0.6109,"color":"#fff0"},{"offset":0.6154,"color":"#b5b5b5"},{"offset":0.6244,"color":"#fff0"},{"offset":0.6494,"color":"#fff0"},{"offset":0.6538,"color":"#b5b5b5"},{"offset":0.6628,"color":"#fff0"},{"offset":0.6878,"color":"#fff0"},{"offset":0.6923,"color":"#b5b5b5"},{"offset":0.7013,"color":"#fff0"},{"offset":0.7263,"color":"#fff0"},{"offset":0.7308,"color":"#b5b5b5"},{"offset":0.7398,"color":"#fff0"},{"offset":0.7648,"color":"#fff0"},{"offset":0.7692,"color":"#b5b5b5"},{"offset":0.7782,"color":"#fff0"},{"offset":0.8032,"color":"#fff0"},{"offset":0.8077,"color":"#b5b5b5"},{"offset":0.8167,"color":"#fff0"},{"offset":0.8417,"color":"#fff0"},{"offset":0.8462,"color":"#b5b5b5"},{"offset":0.8552,"color":"#fff0"},{"offset":0.8802,"color":"#fff0"},{"offset":0.8846,"color":"#b5b5b5"},{"offset":0.8936,"color":"#fff0"},{"offset":0.9186,"color":"#fff0"},{"offset":0.9231,"color":"#b5b5b5"},{"offset":0.9321,"color":"#fff0"},{"offset":0.9571,"color":"#fff0"},{"offset":0.9615,"color":"#b5b5b5"},{"offset":0.9705,"color":"#fff0"},{"offset":1,"color":"#fff0"}]}},"encoding":{"y":{"field":"lo","type":"quantitative","axis":null},"y2":{"field":"hi"}}},
  {"data":{"name":"bands"},"transform":[{"filter":"datum.p == 'BL' && datum.name == 'M12'"}],"mark":{"type":"rect","clip":true,"fill":{"gradient":"linear","x1":0,"y1":0,"x2":1.07,"y2":0.075,"stops":[{"offset":0,"color":"#b5b5b5"},{"offset":0.009,"color":"#fff0"},{"offset":0.034,"color":"#fff0"},{"offset":0.0385,"color":"#b5b5b5"},{"offset":0.0475,"color":"#fff0"},{"offset":0.0725,"color":"#fff0"},{"offset":0.0769,"color":"#b5b5b5"},{"offset":0.0859,"color":"#fff0"},{"offset":0.1109,"color":"#fff0"},{"offset":0.1154,"color":"#b5b5b5"},{"offset":0.1244,"color":"#fff0"},{"offset":0.1494,"color":"#fff0"},{"offset":0.1538,"color":"#b5b5b5"},{"offset":0.1628,"color":"#fff0"},{"offset":0.1878,"color":"#fff0"},{"offset":0.1923,"color":"#b5b5b5"},{"offset":0.2013,"color":"#fff0"},{"offset":0.2263,"color":"#fff0"},{"offset":0.2308,"color":"#b5b5b5"},{"offset":0.2398,"color":"#fff0"},{"offset":0.2648,"color":"#fff0"},{"offset":0.2692,"color":"#b5b5b5"},{"offset":0.2782,"color":"#fff0"},{"offset":0.3032,"color":"#fff0"},{"offset":0.3077,"color":"#b5b5b5"},{"offset":0.3167,"color":"#fff0"},{"offset":0.3417,"color":"#fff0"},{"offset":0.3462,"color":"#b5b5b5"},{"offset":0.3552,"color":"#fff0"},{"offset":0.3802,"color":"#fff0"},{"offset":0.3846,"color":"#b5b5b5"},{"offset":0.3936,"color":"#fff0"},{"offset":0.4186,"color":"#fff0"},{"offset":0.4231,"color":"#b5b5b5"},{"offset":0.4321,"color":"#fff0"},{"offset":0.4571,"color":"#fff0"},{"offset":0.4615,"color":"#b5b5b5"},{"offset":0.4705,"color":"#fff0"},{"offset":0.4955,"color":"#fff0"},{"offset":0.5,"color":"#b5b5b5"},{"offset":0.509,"color":"#fff0"},{"offset":0.534,"color":"#fff0"},{"offset":0.5385,"color":"#b5b5b5"},{"offset":0.5475,"color":"#fff0"},{"offset":0.5725,"color":"#fff0"},{"offset":0.5769,"color":"#b5b5b5"},{"offset":0.5859,"color":"#fff0"},{"offset":0.6109,"color":"#fff0"},{"offset":0.6154,"color":"#b5b5b5"},{"offset":0.6244,"color":"#fff0"},{"offset":0.6494,"color":"#fff0"},{"offset":0.6538,"color":"#b5b5b5"},{"offset":0.6628,"color":"#fff0"},{"offset":0.6878,"color":"#fff0"},{"offset":0.6923,"color":"#b5b5b5"},{"offset":0.7013,"color":"#fff0"},{"offset":0.7263,"color":"#fff0"},{"offset":0.7308,"color":"#b5b5b5"},{"offset":0.7398,"color":"#fff0"},{"offset":0.7648,"color":"#fff0"},{"offset":0.7692,"color":"#b5b5b5"},{"offset":0.7782,"color":"#fff0"},{"offset":0.8032,"color":"#fff0"},{"offset":0.8077,"color":"#b5b5b5"},{"offset":0.8167,"color":"#fff0"},{"offset":0.8417,"color":"#fff0"},{"offset":0.8462,"color":"#b5b5b5"},{"offset":0.8552,"color":"#fff0"},{"offset":0.8802,"color":"#fff0"},{"offset":0.8846,"color":"#b5b5b5"},{"offset":0.8936,"color":"#fff0"},{"offset":0.9186,"color":"#fff0"},{"offset":0.9231,"color":"#b5b5b5"},{"offset":0.9321,"color":"#fff0"},{"offset":0.9571,"color":"#fff0"},{"offset":0.9615,"color":"#b5b5b5"},{"offset":0.9705,"color":"#fff0"},{"offset":1,"color":"#fff0"}]}},"encoding":{"y":{"field":"lo","type":"quantitative","axis":null},"y2":{"field":"hi"}}},
  {"data":{"name":"hlines"},"transform":[{"filter":"datum.p == 'BL'"}],"mark":{"type":"rule","strokeDash":[10,5],"strokeWidth":1.5,"color":"#000"},"encoding":{"y":{"field":"v","type":"quantitative","axis":null}}},
  {"data":{"name":"limits"},"transform":[{"filter":"datum.p == 'BL'"}],"mark":{"type":"rule","strokeWidth":1.5,"color":"#000"},"encoding":{"x":{"field":"z","type":"quantitative","axis":null},"y":{"field":"v","type":"quantitative","axis":null},"y2":{"field":"tip"}}},
  {"data":{"name":"limits"},"transform":[{"filter":"datum.p == 'BL'"}],"mark":{"type":"point","shape":"M-1,-1.5L0,0L1,-1.5","filled":false,"size":160,"strokeWidth":1.5,"color":"#000","opacity":1},"encoding":{"x":{"field":"z","type":"quantitative","axis":null},"y":{"field":"tip","type":"quantitative","axis":null}}},
  {"data":{"name":"curves"},"transform":[{"filter":"datum.p == 'BL'"}],"mark":{"type":"line","strokeWidth":1.5,"clip":true,"interpolate":"monotone"},"encoding":{
   "x":{"field":"z","type":"quantitative","axis":null},"y":{"field":"v","type":"quantitative","axis":null},
   "color":{"field":"s","type":"nominal","scale":{"domain":["X/O = −2","X/O = −3","X/O = −4"],"range":["#ffab60","#2a962a","#857fc4"]},"legend":null}}},
  {"data":{"name":"notes"},"transform":[{"filter":"datum.p == 'BL'"}],"mark":{"type":"text","align":"left","baseline":"middle","fontSize":14,"font":"DejaVu Sans","color":"#222"},"encoding":{"x":{"field":"z","type":"quantitative","axis":null},"y":{"field":"v","type":"quantitative","axis":null},"text":{"field":"t"}}},
  {"data":{"name":"tags"},"transform":[{"filter":"datum.p == 'BL'"}],"mark":{"type":"text","align":"right","baseline":"middle","fontSize":13,"font":"DejaVu Sans","color":"#222"},"encoding":{"x":{"field":"z","type":"quantitative","axis":null},"y":{"field":"v","type":"quantitative","axis":null},"text":{"field":"t"}}}
 ]},
{"width":198,"height":153,
 "resolve":{"axis":{"x":"independent","y":"independent"}},
 "layer":[
  {"data":{"name":"curves"},"transform":[{"filter":"datum.p == 'BM'"}],"mark":{"type":"point","opacity":0},"encoding":{
   "x":{"field":"z","type":"quantitative","scale":{"domain":[5,30],"nice":false},"axis":{"orient":"bottom","values":[5,10,15,20,25,30],"ticks":false,"tickSize":0,"labelPadding":10,"labelFlush":false,"labelOverlap":false,"title":"z","titleFontSize":14,"titlePadding":-5}},
   "y":{"field":"v","type":"quantitative","scale":{"type":"log","domain":[1e-17,1e-11],"nice":false},"axis":{"orient":"left","values":[1e-17,1e-16,1e-15,1e-14,1e-13,1e-12,1e-11],"tickSize":-4,"labels":false,"title":null}}}},
  {"data":{"name":"curves"},"transform":[{"filter":"datum.p == 'BM'"}],"mark":{"type":"point","opacity":0},"encoding":{
   "x":{"field":"z","type":"quantitative","axis":{"orient":"bottom","values":[5,10,15,20,25,30],"tickSize":-5,"labels":false,"title":null}},
   "y":{"field":"v","type":"quantitative","axis":{"orient":"left","values":[2e-17,3e-17,4e-17,5e-17,6e-17,7e-17,8e-17,9e-17,2e-16,3e-16,4e-16,5e-16,6e-16,7e-16,8e-16,9e-16,2e-15,3e-15,4e-15,5e-15,6e-15,7e-15,8e-15,9e-15,2e-14,3e-14,4e-14,5e-14,6e-14,7e-14,8e-14,9e-14,2e-13,3e-13,4e-13,5e-13,6e-13,7e-13,8e-13,9e-13,2e-12,3e-12,4e-12,5e-12,6e-12,7e-12,8e-12,9e-12],"tickSize":-2,"labels":false,"title":null}}}},
  {"data":{"name":"curves"},"transform":[{"filter":"datum.p == 'BM'"}],"mark":{"type":"point","opacity":0},"encoding":{
   "x":{"field":"z","type":"quantitative","axis":{"orient":"bottom","values":[6,7,8,9,11,12,13,14,16,17,18,19,21,22,23,24,26,27,28,29],"tickSize":-2.5,"labels":false,"title":null}},
   "y":{"field":"v","type":"quantitative","axis":{"orient":"right","values":[1e-17,1e-16,1e-15,1e-14,1e-13,1e-12,1e-11],"tickSize":-4,"labels":false,"title":null}}}},
  {"data":{"name":"curves"},"transform":[{"filter":"datum.p == 'BM'"}],"mark":{"type":"point","opacity":0},"encoding":{
   "x":{"field":"z","type":"quantitative","axis":{"orient":"top","values":[5,10,15,20,25,30],"tickSize":-5,"labels":false,"title":null}},
   "y":{"field":"v","type":"quantitative","axis":{"orient":"right","values":[2e-17,3e-17,4e-17,5e-17,6e-17,7e-17,8e-17,9e-17,2e-16,3e-16,4e-16,5e-16,6e-16,7e-16,8e-16,9e-16,2e-15,3e-15,4e-15,5e-15,6e-15,7e-15,8e-15,9e-15,2e-14,3e-14,4e-14,5e-14,6e-14,7e-14,8e-14,9e-14,2e-13,3e-13,4e-13,5e-13,6e-13,7e-13,8e-13,9e-13,2e-12,3e-12,4e-12,5e-12,6e-12,7e-12,8e-12,9e-12],"tickSize":-2,"labels":false,"title":null}}}},
  {"data":{"name":"curves"},"transform":[{"filter":"datum.p == 'BM'"}],"mark":{"type":"point","opacity":0},"encoding":{
   "x":{"field":"z","type":"quantitative","axis":{"orient":"top","values":[6,7,8,9,11,12,13,14,16,17,18,19,21,22,23,24,26,27,28,29],"tickSize":-2.5,"labels":false,"title":null}},
   "y":{"field":"v","type":"quantitative","axis":null}}},
  {"data":{"name":"bands"},"transform":[{"filter":"datum.p == 'BM'"}],"mark":{"type":"rect","clip":true,"fill":{"gradient":"linear","x1":0,"y1":0,"x2":1.061,"y2":0.065,"stops":[{"offset":0,"color":"#b5b5b5"},{"offset":0.009,"color":"#fff0"},{"offset":0.034,"color":"#fff0"},{"offset":0.0385,"color":"#b5b5b5"},{"offset":0.0475,"color":"#fff0"},{"offset":0.0725,"color":"#fff0"},{"offset":0.0769,"color":"#b5b5b5"},{"offset":0.0859,"color":"#fff0"},{"offset":0.1109,"color":"#fff0"},{"offset":0.1154,"color":"#b5b5b5"},{"offset":0.1244,"color":"#fff0"},{"offset":0.1494,"color":"#fff0"},{"offset":0.1538,"color":"#b5b5b5"},{"offset":0.1628,"color":"#fff0"},{"offset":0.1878,"color":"#fff0"},{"offset":0.1923,"color":"#b5b5b5"},{"offset":0.2013,"color":"#fff0"},{"offset":0.2263,"color":"#fff0"},{"offset":0.2308,"color":"#b5b5b5"},{"offset":0.2398,"color":"#fff0"},{"offset":0.2648,"color":"#fff0"},{"offset":0.2692,"color":"#b5b5b5"},{"offset":0.2782,"color":"#fff0"},{"offset":0.3032,"color":"#fff0"},{"offset":0.3077,"color":"#b5b5b5"},{"offset":0.3167,"color":"#fff0"},{"offset":0.3417,"color":"#fff0"},{"offset":0.3462,"color":"#b5b5b5"},{"offset":0.3552,"color":"#fff0"},{"offset":0.3802,"color":"#fff0"},{"offset":0.3846,"color":"#b5b5b5"},{"offset":0.3936,"color":"#fff0"},{"offset":0.4186,"color":"#fff0"},{"offset":0.4231,"color":"#b5b5b5"},{"offset":0.4321,"color":"#fff0"},{"offset":0.4571,"color":"#fff0"},{"offset":0.4615,"color":"#b5b5b5"},{"offset":0.4705,"color":"#fff0"},{"offset":0.4955,"color":"#fff0"},{"offset":0.5,"color":"#b5b5b5"},{"offset":0.509,"color":"#fff0"},{"offset":0.534,"color":"#fff0"},{"offset":0.5385,"color":"#b5b5b5"},{"offset":0.5475,"color":"#fff0"},{"offset":0.5725,"color":"#fff0"},{"offset":0.5769,"color":"#b5b5b5"},{"offset":0.5859,"color":"#fff0"},{"offset":0.6109,"color":"#fff0"},{"offset":0.6154,"color":"#b5b5b5"},{"offset":0.6244,"color":"#fff0"},{"offset":0.6494,"color":"#fff0"},{"offset":0.6538,"color":"#b5b5b5"},{"offset":0.6628,"color":"#fff0"},{"offset":0.6878,"color":"#fff0"},{"offset":0.6923,"color":"#b5b5b5"},{"offset":0.7013,"color":"#fff0"},{"offset":0.7263,"color":"#fff0"},{"offset":0.7308,"color":"#b5b5b5"},{"offset":0.7398,"color":"#fff0"},{"offset":0.7648,"color":"#fff0"},{"offset":0.7692,"color":"#b5b5b5"},{"offset":0.7782,"color":"#fff0"},{"offset":0.8032,"color":"#fff0"},{"offset":0.8077,"color":"#b5b5b5"},{"offset":0.8167,"color":"#fff0"},{"offset":0.8417,"color":"#fff0"},{"offset":0.8462,"color":"#b5b5b5"},{"offset":0.8552,"color":"#fff0"},{"offset":0.8802,"color":"#fff0"},{"offset":0.8846,"color":"#b5b5b5"},{"offset":0.8936,"color":"#fff0"},{"offset":0.9186,"color":"#fff0"},{"offset":0.9231,"color":"#b5b5b5"},{"offset":0.9321,"color":"#fff0"},{"offset":0.9571,"color":"#fff0"},{"offset":0.9615,"color":"#b5b5b5"},{"offset":0.9705,"color":"#fff0"},{"offset":1,"color":"#fff0"}]}},"encoding":{"y":{"field":"lo","type":"quantitative","axis":null},"y2":{"field":"hi"}}},
  {"data":{"name":"curves"},"transform":[{"filter":"datum.p == 'BM'"}],"mark":{"type":"line","strokeWidth":1.5,"clip":true,"interpolate":"monotone"},"encoding":{
   "x":{"field":"z","type":"quantitative","axis":null},"y":{"field":"v","type":"quantitative","axis":null},
   "color":{"field":"s","type":"nominal","scale":{"domain":["X/O = −2","X/O = −3","X/O = −4","Yue+2013"],"range":["#ffab60","#2a962a","#857fc4","#000000"]},"legend":null},
   "strokeDash":{"field":"s","type":"nominal","scale":{"domain":["X/O = −2","X/O = −3","X/O = −4","Yue+2013"],"range":[[1,0],[1,0],[1,0],[5,4]]},"legend":null}}},
  {"data":{"name":"tags"},"transform":[{"filter":"datum.p == 'BM'"}],"mark":{"type":"text","align":"right","baseline":"middle","fontSize":13,"font":"DejaVu Sans","color":"#222"},"encoding":{"x":{"field":"z","type":"quantitative","axis":null},"y":{"field":"v","type":"quantitative","axis":null},"text":{"field":"t"}}}
 ]},
{"width":95,"height":153,"view":{"stroke":null},"data":{"name":"hlines"},"transform":[{"filter":"false"}],"mark":{"type":"point","opacity":0},"encoding":{}},
{"width":205,"height":153,
 "resolve":{"axis":{"x":"independent","y":"independent"}},
 "layer":[
  {"data":{"name":"curves"},"transform":[{"filter":"datum.p == 'RB'"}],"mark":{"type":"point","opacity":0},"encoding":{
   "x":{"field":"z","type":"quantitative","scale":{"domain":[5,30],"nice":false},"axis":{"orient":"bottom","values":[5,10,15,20,25,30],"ticks":false,"tickSize":0,"labelPadding":10,"labelFlush":false,"labelOverlap":false,"title":"z","titleFontSize":14,"titlePadding":-5}},
   "y":{"field":"v","type":"quantitative","scale":{"type":"log","domain":[1e-18,1e-10],"nice":false},"axis":{"orient":"left","values":[1e-18,1e-16,1e-14,1e-12],"ticks":false,"tickSize":0,"labelPadding":5,"labelFlush":false,"labelOverlap":false,"labelOffset":{"condition":{"test":"datum.value < 2e-18","value":-9},"value":0},"labelExpr":"datum.value >= 1 && datum.value < 100 ? format(datum.value, 'd') : '10' + replace(replace(replace(replace(replace(replace(replace(replace(replace(replace(replace(toString(round(log(datum.value) / LN10)), regexp('-', 'g'), '⁻'), regexp('0', 'g'), '⁰'), regexp('1', 'g'), '¹'), regexp('2', 'g'), '²'), regexp('3', 'g'), '³'), regexp('4', 'g'), '⁴'), regexp('5', 'g'), '⁵'), regexp('6', 'g'), '⁶'), regexp('7', 'g'), '⁷'), regexp('8', 'g'), '⁸'), regexp('9', 'g'), '⁹')","title":"CIB x CXB","titleX":-52}}}},
  {"data":{"name":"curves"},"transform":[{"filter":"datum.p == 'RB'"}],"mark":{"type":"point","opacity":0},"encoding":{
   "x":{"field":"z","type":"quantitative","axis":{"orient":"bottom","values":[5,10,15,20,25,30],"tickSize":-5,"labels":false,"title":null}},
   "y":{"field":"v","type":"quantitative","axis":{"orient":"left","values":[1e-18,1e-17,1e-16,1e-15,1e-14,1e-13,1e-12,1e-11,1e-10],"tickSize":-4,"labels":false,"title":null}}}},
  {"data":{"name":"curves"},"transform":[{"filter":"datum.p == 'RB'"}],"mark":{"type":"point","opacity":0},"encoding":{
   "x":{"field":"z","type":"quantitative","axis":{"orient":"bottom","values":[6,7,8,9,11,12,13,14,16,17,18,19,21,22,23,24,26,27,28,29],"tickSize":-2.5,"labels":false,"title":null}},
   "y":{"field":"v","type":"quantitative","axis":{"orient":"right","values":[1e-18,1e-17,1e-16,1e-15,1e-14,1e-13,1e-12,1e-11,1e-10],"tickSize":-4,"labels":false,"title":null}}}},
  {"data":{"name":"curves"},"transform":[{"filter":"datum.p == 'RB'"}],"mark":{"type":"point","opacity":0},"encoding":{
   "x":{"field":"z","type":"quantitative","axis":{"orient":"top","values":[5,10,15,20,25,30],"tickSize":-5,"labels":false,"title":null}},
   "y":{"field":"v","type":"quantitative","axis":null}}},
  {"data":{"name":"curves"},"transform":[{"filter":"datum.p == 'RB'"}],"mark":{"type":"point","opacity":0},"encoding":{
   "x":{"field":"z","type":"quantitative","axis":{"orient":"top","values":[6,7,8,9,11,12,13,14,16,17,18,19,21,22,23,24,26,27,28,29],"tickSize":-2.5,"labels":false,"title":null}},
   "y":{"field":"v","type":"quantitative","axis":null}}},
  {"data":{"name":"bands"},"transform":[{"filter":"datum.p == 'RB'"}],"mark":{"type":"rect","clip":true,"fill":{"gradient":"linear","x1":0,"y1":0,"x2":1.149,"y2":0.171,"stops":[{"offset":0,"color":"#b5b5b5"},{"offset":0.009,"color":"#fff0"},{"offset":0.034,"color":"#fff0"},{"offset":0.0385,"color":"#b5b5b5"},{"offset":0.0475,"color":"#fff0"},{"offset":0.0725,"color":"#fff0"},{"offset":0.0769,"color":"#b5b5b5"},{"offset":0.0859,"color":"#fff0"},{"offset":0.1109,"color":"#fff0"},{"offset":0.1154,"color":"#b5b5b5"},{"offset":0.1244,"color":"#fff0"},{"offset":0.1494,"color":"#fff0"},{"offset":0.1538,"color":"#b5b5b5"},{"offset":0.1628,"color":"#fff0"},{"offset":0.1878,"color":"#fff0"},{"offset":0.1923,"color":"#b5b5b5"},{"offset":0.2013,"color":"#fff0"},{"offset":0.2263,"color":"#fff0"},{"offset":0.2308,"color":"#b5b5b5"},{"offset":0.2398,"color":"#fff0"},{"offset":0.2648,"color":"#fff0"},{"offset":0.2692,"color":"#b5b5b5"},{"offset":0.2782,"color":"#fff0"},{"offset":0.3032,"color":"#fff0"},{"offset":0.3077,"color":"#b5b5b5"},{"offset":0.3167,"color":"#fff0"},{"offset":0.3417,"color":"#fff0"},{"offset":0.3462,"color":"#b5b5b5"},{"offset":0.3552,"color":"#fff0"},{"offset":0.3802,"color":"#fff0"},{"offset":0.3846,"color":"#b5b5b5"},{"offset":0.3936,"color":"#fff0"},{"offset":0.4186,"color":"#fff0"},{"offset":0.4231,"color":"#b5b5b5"},{"offset":0.4321,"color":"#fff0"},{"offset":0.4571,"color":"#fff0"},{"offset":0.4615,"color":"#b5b5b5"},{"offset":0.4705,"color":"#fff0"},{"offset":0.4955,"color":"#fff0"},{"offset":0.5,"color":"#b5b5b5"},{"offset":0.509,"color":"#fff0"},{"offset":0.534,"color":"#fff0"},{"offset":0.5385,"color":"#b5b5b5"},{"offset":0.5475,"color":"#fff0"},{"offset":0.5725,"color":"#fff0"},{"offset":0.5769,"color":"#b5b5b5"},{"offset":0.5859,"color":"#fff0"},{"offset":0.6109,"color":"#fff0"},{"offset":0.6154,"color":"#b5b5b5"},{"offset":0.6244,"color":"#fff0"},{"offset":0.6494,"color":"#fff0"},{"offset":0.6538,"color":"#b5b5b5"},{"offset":0.6628,"color":"#fff0"},{"offset":0.6878,"color":"#fff0"},{"offset":0.6923,"color":"#b5b5b5"},{"offset":0.7013,"color":"#fff0"},{"offset":0.7263,"color":"#fff0"},{"offset":0.7308,"color":"#b5b5b5"},{"offset":0.7398,"color":"#fff0"},{"offset":0.7648,"color":"#fff0"},{"offset":0.7692,"color":"#b5b5b5"},{"offset":0.7782,"color":"#fff0"},{"offset":0.8032,"color":"#fff0"},{"offset":0.8077,"color":"#b5b5b5"},{"offset":0.8167,"color":"#fff0"},{"offset":0.8417,"color":"#fff0"},{"offset":0.8462,"color":"#b5b5b5"},{"offset":0.8552,"color":"#fff0"},{"offset":0.8802,"color":"#fff0"},{"offset":0.8846,"color":"#b5b5b5"},{"offset":0.8936,"color":"#fff0"},{"offset":0.9186,"color":"#fff0"},{"offset":0.9231,"color":"#b5b5b5"},{"offset":0.9321,"color":"#fff0"},{"offset":0.9571,"color":"#fff0"},{"offset":0.9615,"color":"#b5b5b5"},{"offset":0.9705,"color":"#fff0"},{"offset":1,"color":"#fff0"}]}},"encoding":{"y":{"field":"lo","type":"quantitative","axis":null},"y2":{"field":"hi"}}},
  {"data":{"name":"curves"},"transform":[{"filter":"datum.p == 'RB'"}],"mark":{"type":"line","strokeWidth":1.5,"clip":true,"interpolate":"monotone"},"encoding":{
   "x":{"field":"z","type":"quantitative","axis":null},"y":{"field":"v","type":"quantitative","axis":null},
   "color":{"field":"s","type":"nominal","scale":{"domain":["X/O = −2","X/O = −3","X/O = −4","Yue+2013"],"range":["#ffab60","#2a962a","#857fc4","#000000"]},"legend":{"title":null,"orient":"none","legendX":104,"legendY":38,"symbolType":"M-5.33,0L5.33,0","symbolSize":81,"symbolStrokeWidth":1.5,"labelFontSize":11,"labelColor":"#222","labelOffset":28,"rowPadding":1,"labelExpr":"replace(datum.label, ' = ', '\u00a0 = \u00a0')"}},
   "strokeDash":{"field":"s","type":"nominal","scale":{"domain":["X/O = −2","X/O = −3","X/O = −4","Yue+2013"],"range":[[1,0],[1,0],[1,0],[5,4]]},"legend":{"title":null,"orient":"none","legendX":104,"legendY":38,"symbolType":"M-5.33,0L5.33,0","symbolSize":81,"symbolStrokeWidth":1.5,"labelFontSize":11,"labelColor":"#222","labelOffset":28,"rowPadding":1,"labelExpr":"replace(datum.label, ' = ', '\u00a0 = \u00a0')"}}}},
  {"data":{"name":"tags"},"transform":[{"filter":"datum.p == 'RB'"}],"mark":{"type":"text","align":"right","baseline":"middle","fontSize":13,"font":"DejaVu Sans","color":"#222"},"encoding":{"x":{"field":"z","type":"quantitative","axis":null},"y":{"field":"v","type":"quantitative","axis":null},"text":{"field":"t"}}}
 ]}
]
}
